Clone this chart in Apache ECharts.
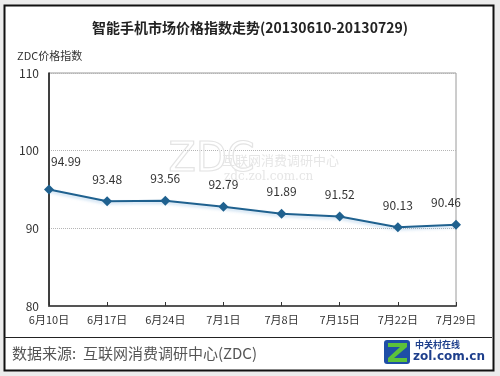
<!DOCTYPE html>
<html>
<head>
<meta charset="utf-8">
<script src="https://cdn.jsdelivr.net/npm/echarts@6/dist/echarts.min.js"></script>
<style>
  html, body { margin: 0; padding: 0; background: #ececec; }
  #chart { width: 500px; height: 376px; }
</style>
</head>
<body>
<div id="chart"></div>
<script>
// data
const dates = ['6月10日', '6月17日', '6月24日', '7月1日', '7月8日', '7月15日', '7月22日', '7月29日'];
const priceIndex = [94.99, 93.48, 93.56, 92.79, 91.89, 91.52, 90.13, 90.46];
const yTicks = [80, 90, 100, 110];

const titleText = '智能手机市场价格指数走势(20130610-20130729)';
const sourceText = '数据来源:  互联网消费调研中心(ZDC)';

let chart = echarts.init(document.getElementById('chart'), null, { renderer: 'canvas' });

const font = '"Noto Sans CJK SC", "DejaVu Sans", sans-serif';

// first and last labels are nudged inward so they stay inside the plot
const seriesData = priceIndex.map((v, i) => {
    let item = { value: v };
    if (i === 0) item.label = { offset: [17, -6] };
    if (i === priceIndex.length - 1) item.label = { offset: [-10, 0] };
    return item;
});

chart.setOption({
    backgroundColor: '#ececec',
    animation: false,
    grid: {
        left: 49, right: 44, top: 73, bottom: 70,
        show: true, backgroundColor: '#fff', borderColor: '#9a9a9a', borderWidth: 1
    },
    graphic: [
        // outer frame
        { type: 'rect', z: -10, shape: { x: 4.5, y: 5.5, width: 489, height: 365 },
          style: { fill: '#fff', stroke: '#111', lineWidth: 2 } },
        { type: 'text', left: 'center', top: 21, z: 5,
          style: { text: titleText, font: 'bold 14px ' + font, fill: '#222' } },
        { type: 'text', left: 17, top: 50, z: 5,
          style: { text: 'ZDC价格指数', font: '11px ' + font, fill: '#333' } },
        // separator
        { type: 'line', z: 5, shape: { x1: 4, y1: 337.5, x2: 492, y2: 337.5 },
          style: { stroke: '#222', lineWidth: 1 } },
        { type: 'text', left: 12, top: 346, z: 5,
          style: { text: sourceText, font: '15px ' + font, fill: '#555' } },
        // watermark
        { type: 'text', left: 168, top: 140, z: 1,
          style: { text: 'ZDC', font: '40px "DejaVu Sans", sans-serif', fill: 'rgba(0,0,0,0)',
                   stroke: '#e4e4e4', lineWidth: 1.2 } },
        { type: 'text', left: 222, top: 154, z: 1,
          style: { text: '互联网消费调研中心', font: '13px ' + font, fill: '#e6e6e6' } },
        { type: 'text', left: 224, top: 171, z: 1,
          style: { text: 'zdc.zol.com.cn', font: '12px "DejaVu Serif", serif', fill: '#e6e6e6' } },
        // logo
        { type: 'rect', z: 5, shape: { x: 384, y: 340, width: 26, height: 24, r: 3 },
          style: { fill: '#1e4fa6' } },
        { type: 'polygon', z: 6, shape: { points: [[388, 343], [407, 343], [407, 347], [394, 358], [407, 358], [407, 362], [388, 362], [388, 358], [400, 347], [388, 347]] },
          style: { fill: '#5cc23a' } },
        { type: 'text', left: 415, top: 340, z: 5,
          style: { text: '中关村在线', font: 'bold 9px ' + font, fill: '#1e3f8c' } },
        { type: 'text', left: 413, top: 351, z: 5,
          style: { text: 'zol.com.cn', font: 'bold 12px "DejaVu Sans", sans-serif', fill: '#1e3f8c' } }
    ],
    xAxis: {
        type: 'category',
        data: dates,
        boundaryGap: false,
        axisLine: { lineStyle: { color: '#555', width: 2 } },
        axisTick: { inside: true, length: 4, alignWithLabel: true, lineStyle: { color: '#333' } },
        axisLabel: { color: '#333', fontSize: 11, fontFamily: font, margin: 8, interval: 0 },
        splitLine: { show: false }
    },
    yAxis: {
        type: 'value',
        min: yTicks[0],
        max: yTicks[yTicks.length - 1],
        interval: 10,
        axisLine: { show: true, lineStyle: { color: '#111', width: 1.5 } },
        axisTick: { show: false },
        axisLabel: { color: '#333', fontSize: 12, fontFamily: font, margin: 10 },
        splitLine: { show: true, lineStyle: { color: '#b5b5b5', type: 'dotted', width: 1 } }
    },
    series: [{
        type: 'line',
        data: seriesData,
        symbol: 'diamond',
        symbolSize: 10,
        lineStyle: { color: '#1f618f', width: 2, shadowColor: 'rgba(80,150,210,0.35)', shadowBlur: 3, shadowOffsetY: 2 },
        itemStyle: { color: '#1f618f' },
        label: {
            show: true,
            position: 'top',
            distance: 11,
            color: '#333',
            fontSize: 12,
            fontFamily: font
        },
        z: 3
    }]
});
</script>
</body>
</html>
